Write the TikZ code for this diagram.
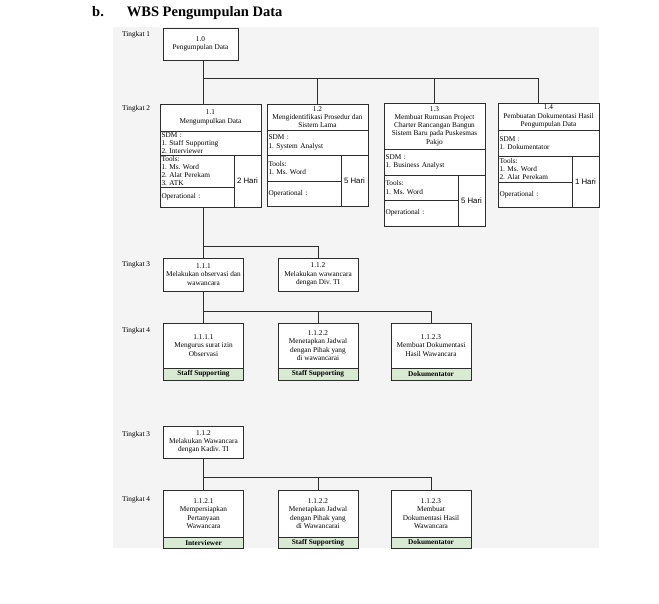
\documentclass[tikz,border=0pt]{standalone}
\usepackage{fontspec}
\setmainfont{Liberation Serif}
\newfontfamily\arialfont{Liberation Sans}
\usepackage{tikz}
\usepackage{xcolor}
\usetikzlibrary{positioning}
\definecolor{panelbg}{RGB}{244,244,244}
\definecolor{boxline}{RGB}{45,45,45}
\definecolor{rolegreen}{RGB}{217,234,211}
\newcommand{\wbsfont}{\frenchspacing\fontsize{7.3}{8.3}\selectfont}
\newcommand{\harifont}{\arialfont\fontsize{7.8}{9}\selectfont}
\newcommand{\judulfont}{\fontsize{14.5}{17}\selectfont\bfseries}
\tikzset{
  wbsbox/.style={draw=boxline, line width=0.7pt, fill=white, inner sep=0pt, outer sep=0pt, anchor=north west, align=center, font=\wbsfont},
  fullcell/.style={wbsbox, align=left, inner xsep=1.5pt, text width=98pt},
  toolcell/.style={wbsbox, align=left, inner xsep=1.5pt, text width=71pt},
  haricell/.style={wbsbox, anchor=north east, minimum width=27pt, font=\harifont},
  rolecell/.style={wbsbox, fill=rolegreen, minimum width=80pt, minimum height=12pt, font=\wbsfont\bfseries},
  link/.style={draw=boxline, line width=0.7pt},
  tingkat/.style={anchor=west, inner sep=0pt, font=\wbsfont}
}

\begin{document}
\begin{tikzpicture}[x=1pt, y=-1pt]
\useasboundingbox (0,0) rectangle (659,603);
\fill[panelbg] (113,27) rectangle (599,548);
\node[anchor=base west, inner sep=0pt, font=\judulfont] (judul) at (92,16) {b.\hspace{23pt}WBS Pengumpulan Data};

\coordinate (trunk) at (203.5,0);
\coordinate (drop14) at (538,0);
\coordinate (bus1) at (0,78);
\coordinate (bus2) at (0,246);
\coordinate (bus3) at (0,311);
\coordinate (bus4) at (0,477);

\node[tingkat] (lv1) at (122,35) {Tingkat 1};
\node[tingkat] (lv2) at (122,109) {Tingkat 2};
\node[tingkat] (lv3a) at (122,265) {Tingkat 3};
\node[tingkat] (lv4a) at (122,331) {Tingkat 4};
\node[tingkat] (lv3b) at (122,435) {Tingkat 3};
\node[tingkat] (lv4b) at (122,500) {Tingkat 4};

\node[wbsbox, minimum width=75pt, minimum height=32pt] (t10) at (163,28) {1.0\\Pengumpulan Data};

\node[wbsbox, minimum width=101pt, minimum height=27pt] (t11) at (160,104) {1.1\\Mengumpulkan Data};
\node[fullcell, minimum height=24pt] (s11) at (t11.south west) {SDM :\\1. Staff Supporting\\2. Interviewer};
\node[toolcell, minimum height=32pt] (k11) at (s11.south west) {Tools:\\1. Ms. Word\\2. Alat Perekam\\3. ATK};
\node[toolcell, minimum height=20pt] (o11) at (k11.south west) {Operational :};
\node[haricell, minimum height=52pt] (h11) at (s11.south east) {2 Hari};

\node[wbsbox, minimum width=101pt, minimum height=26pt] (t12) at (267,104) {1.2\\Mengidentifikasi Prosedur dan\\Sistem Lama};
\node[fullcell, minimum height=25pt] (s12) at (t12.south west) {SDM :\\1. System Analyst};
\node[toolcell, minimum height=26pt] (k12) at (s12.south west) {Tools:\\1. Ms. Word};
\node[toolcell, minimum height=25pt] (o12) at (k12.south west) {Operational :};
\node[haricell, minimum height=51pt] (h12) at (s12.south east) {5 Hari};

\node[wbsbox, minimum width=101pt, minimum height=46pt] (t13) at (384,103) {1.3\\Membuat Rumusan Project\\Charter Rancangan Bangun\\Sistem Baru pada Puskesmas\\Pakjo};
\node[fullcell, minimum height=26pt] (s13) at (t13.south west) {SDM :\\1. Business Analyst};
\node[toolcell, minimum height=25pt] (k13) at (s13.south west) {Tools:\\1. Ms. Word};
\node[toolcell, minimum height=26pt] (o13) at (k13.south west) {Operational :};
\node[haricell, minimum height=51pt] (h13) at (s13.south east) {5 Hari};

\node[wbsbox, minimum width=101pt, minimum height=27pt] (t14) at (498,103) {1.4\\Pembuatan Dokumentasi Hasil\\Pengumpulan Data};
\node[fullcell, minimum height=26pt] (s14) at (t14.south west) {SDM :\\1. Dokumentator};
\node[toolcell, minimum height=26pt] (k14) at (s14.south west) {Tools:\\1. Ms. Word\\2. Alat Perekam};
\node[toolcell, minimum height=25pt] (o14) at (k14.south west) {Operational :};
\node[haricell, minimum height=51pt] (h14) at (s14.south east) {1 Hari};

\node[wbsbox, minimum width=80pt, minimum height=33pt] (p111) at (163.5,258) {1.1.1\\Melakukan observasi dan\\wawancara};
\node[wbsbox, minimum width=80pt, minimum height=33pt] (p112) at (278,258) {1.1.2\\Melakukan wawancara\\dengan Div. TI};

\node[wbsbox, minimum width=80pt, minimum height=45pt] (q1111) at (163.5,323) {1.1.1.1\\Mengurus surat izin\\Observasi};
\node[rolecell, below=0pt of q1111] (rq1111) {Staff Supporting};
\node[wbsbox, minimum width=80pt, minimum height=45pt] (q1122) at (278,323) {1.1.2.2\\Menetapkan Jadwal\\dengan Pihak yang\\di wawancarai};
\node[rolecell, below=0pt of q1122] (rq1122) {Staff Supporting};
\node[wbsbox, minimum width=80pt, minimum height=45pt] (q1123) at (391,323) {1.1.2.3\\Membuat Dokumentasi\\Hasil Wawancara};
\node[rolecell, below=0pt of q1123] (rq1123) {Dokumentator};

\node[wbsbox, minimum width=80pt, minimum height=32pt] (p112b) at (163.5,426) {1.1.2\\Melakukan Wawancara\\dengan Kadiv. TI};

\node[wbsbox, minimum width=80pt, minimum height=47pt] (r1121) at (163.5,490) {1.1.2.1\\Mempersiapkan\\Pertanyaan\\Wawancara};
\node[rolecell, minimum height=11pt, below=0pt of r1121] (rr1121) {Interviewer};
\node[wbsbox, minimum width=80pt, minimum height=47pt] (r1122) at (278,490) {1.1.2.2\\Menetapkan Jadwal\\dengan Pihak yang\\di Wawancarai};
\node[rolecell, minimum height=11pt, below=0pt of r1122] (rr1122) {Staff Supporting};
\node[wbsbox, minimum width=80pt, minimum height=47pt] (r1123) at (391,490) {1.1.2.3\\Membuat\\Dokumentasi Hasil\\Wawancara};
\node[rolecell, minimum height=11pt, below=0pt of r1123] (rr1123) {Dokumentator};

\draw[link] (t10.south -| trunk) -- (t11.north -| trunk);
\draw[link] (bus1 -| trunk) -- (bus1 -| drop14) -- (t14.north -| drop14);
\draw[link] (bus1 -| t12.north) -- (t12.north);
\draw[link] (bus1 -| t13.north) -- (t13.north);

\draw[link] (o11.south -| trunk) -- (p111.north);
\draw[link] (bus2 -| trunk) -| (p112.north);

\draw[link] (p111.south) -- (q1111.north);
\draw[link] (bus3 -| q1111.north) -| (q1123.north);
\draw[link] (bus3 -| q1122.north) -- (q1122.north);

\draw[link] (p112b.south) -- (r1121.north);
\draw[link] (bus4 -| r1121.north) -| (r1123.north);
\draw[link] (bus4 -| r1122.north) -- (r1122.north);
\end{tikzpicture}
\end{document}
